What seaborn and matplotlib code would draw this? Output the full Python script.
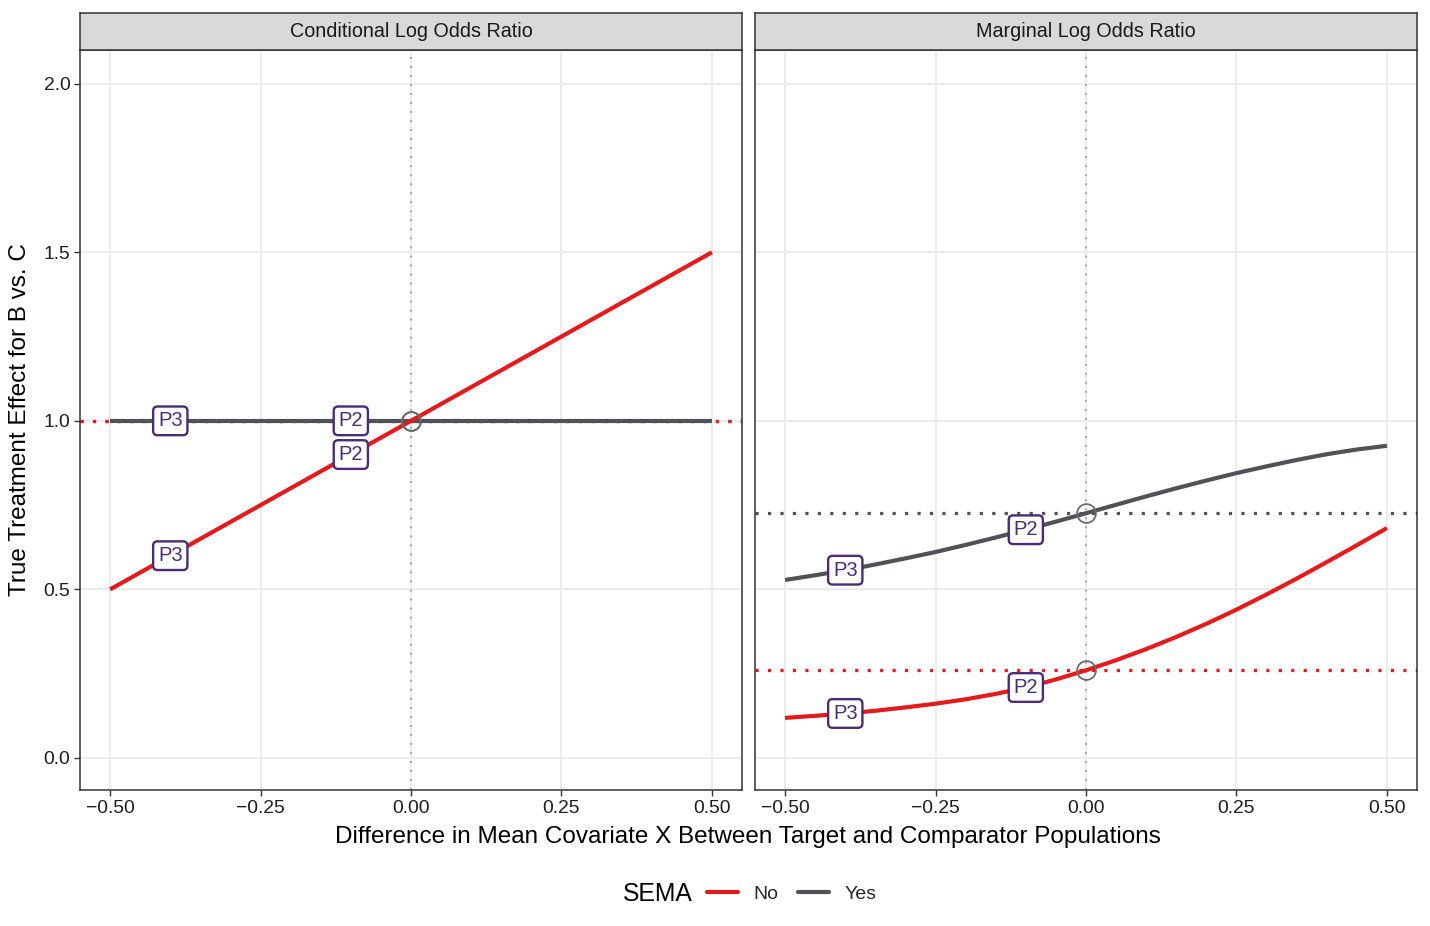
import numpy as np
import pandas as pd
import matplotlib.pyplot as plt
from matplotlib.lines import Line2D
from matplotlib.ticker import FuncFormatter
import seaborn as sns

sns.set_theme(style="whitegrid")
plt.rcParams['font.family'] = ['Liberation Sans', 'DejaVu Sans']

# ---- data ----
panels = ["Conditional Log Odds Ratio", "Marginal Log Odds Ratio"]
x_vals = [-0.5, -0.45, -0.4, -0.35, -0.3, -0.25, -0.2, -0.15, -0.1, -0.05, 0.0,
          0.05, 0.1, 0.15, 0.2, 0.25, 0.3, 0.35, 0.4, 0.45, 0.5]
cond_no = [0.5, 0.55, 0.6, 0.65, 0.7, 0.75, 0.8, 0.85, 0.9, 0.95, 1.0,
           1.05, 1.1, 1.15, 1.2, 1.25, 1.3, 1.35, 1.4, 1.45, 1.5]
cond_yes = [1.0] * 21
marg_no = [0.119, 0.125, 0.132, 0.140, 0.150, 0.161, 0.174, 0.190, 0.209, 0.233, 0.260,
           0.290, 0.323, 0.359, 0.398, 0.440, 0.485, 0.532, 0.581, 0.631, 0.682]
marg_yes = [0.528, 0.542, 0.557, 0.574, 0.592, 0.611, 0.632, 0.654, 0.677, 0.701, 0.726,
            0.751, 0.776, 0.800, 0.823, 0.845, 0.865, 0.884, 0.901, 0.915, 0.926]
ref_no = [1.0, 0.260]     # value at x = 0 for each panel
ref_yes = [1.0, 0.726]
label_names = ["P3", "P2"]
label_x = [-0.4, -0.1]

RED = "#E41A1C"
GREY = "#4F5357"
PURPLE = "#4A2B78"

rows = []
for p, no, yes in zip(panels, [cond_no, marg_no], [cond_yes, marg_yes]):
    for x, a, b in zip(x_vals, no, yes):
        rows.append((p, x, a, "No"))
        rows.append((p, x, b, "Yes"))
df = pd.DataFrame(rows, columns=["panel", "x", "effect", "SEMA"])

W, H = 1430, 926
fig = plt.figure(figsize=(W / 100, H / 100), dpi=100)
ax_left = [80, 755]
ax_w = 662
ax_top, ax_bot = 50, 790

fmt_x = FuncFormatter(lambda v, _: f"{v:.2f}".replace("-", "\u2212"))
fmt_y = FuncFormatter(lambda v, _: f"{v:.1f}")

for i, p in enumerate(panels):
    ax = fig.add_axes([ax_left[i] / W, 1 - ax_bot / H, ax_w / W, (ax_bot - ax_top) / H])
    sub = df[df["panel"] == p]

    # reference lines
    ax.axvline(0, color="#9A9A9A", lw=1.3, ls=(0, (1, 4)), zorder=1)
    ax.axhline(ref_yes[i], color=GREY, lw=2.3, ls=(0, (1, 2.9)), zorder=1.5)
    ax.axhline(ref_no[i], color=RED, lw=2.3, ls=(0, (1, 2.9)), zorder=1.6)

    sns.lineplot(data=sub, x="x", y="effect", hue="SEMA", hue_order=["Yes", "No"],
                 palette={"No": RED, "Yes": GREY}, lw=3.0, legend=False, ax=ax)
    for ln in ax.lines[-2:]:
        ln.set_solid_capstyle("butt")
    ax.lines[-1].set_zorder(3.5)
    ax.lines[-2].set_zorder(3)

    # open circles at x = 0
    ax.plot([0, 0], [ref_no[i], ref_yes[i]], ls="none", marker="o", ms=13.5,
            mfc="none", mec="#6A6A6A", mew=1.3, zorder=5)

    # P labels
    for grp in ["Yes", "No"]:
        g = sub[sub["SEMA"] == grp].set_index("x")["effect"]
        for name, lx in zip(label_names, label_x):
            ax.text(lx, g.loc[lx], name, ha="center", va="center", fontsize=14.5,
                    color=PURPLE, zorder=6,
                    bbox=dict(boxstyle="round,pad=0.24,rounding_size=0.22",
                              fc="white", ec=PURPLE, lw=1.7))

    ax.set_xlim(-0.55, 0.55)
    ax.set_ylim(-0.095, 2.1)
    ax.set_xticks([-0.5, -0.25, 0, 0.25, 0.5])
    ax.set_yticks([0, 0.5, 1.0, 1.5, 2.0])
    ax.xaxis.set_major_formatter(fmt_x)
    ax.yaxis.set_major_formatter(fmt_y)
    ax.set_xlabel("")
    ax.set_ylabel("")
    ax.set_facecolor("white")
    ax.grid(True, color="#EBEBEB", lw=1.3)
    for s in ax.spines.values():
        s.set_color("#333333")
        s.set_linewidth(1.1)
    ax.tick_params(axis="both", which="major", length=4, width=1.0, color="#333333",
                   labelsize=13.9, labelcolor="#1F1F1F", pad=3, direction="out")
    ax.tick_params(axis="x", bottom=True)
    if i == 0:
        ax.tick_params(axis="y", left=True)
    else:
        ax.tick_params(axis="y", left=False, labelleft=False)

    # facet strip
    sax = fig.add_axes([ax_left[i] / W, 1 - ax_top / H, ax_w / W, 37 / H])
    sax.set_facecolor("#D9D9D9")
    sax.set_xticks([])
    sax.set_yticks([])
    sax.grid(False)
    for s in sax.spines.values():
        s.set_color("#333333")
        s.set_linewidth(1.1)
    sax.text(0.5, 0.5, p, ha="center", va="center", fontsize=14.2, color="#1A1A1A",
             transform=sax.transAxes)

fig.text(748 / W, 1 - 837 / H, "Difference in Mean Covariate X Between Target and Comparator Populations",
         ha="center", va="center", fontsize=17.5, color="black")
fig.text(20 / W, 1 - 420 / H, "True Treatment Effect for B vs. C", ha="center", va="center",
         rotation=90, fontsize=17.5, color="black")

# legend
fig.text(623 / W, 1 - 894 / H, "SEMA", ha="left", va="center", fontsize=17.8, color="black")
handles = [Line2D([], [], color=RED, lw=3.0), Line2D([], [], color=GREY, lw=3.0)]
fig.legend(handles, ["No", "Yes"], loc="center left", bbox_to_anchor=(707 / W, 1 - 894 / H),
           ncol=2, frameon=False, fontsize=14, handlelength=1.6, handletextpad=0.8,
           columnspacing=1.0, borderpad=0, borderaxespad=0)

fig.savefig("out.png", dpi=100)
